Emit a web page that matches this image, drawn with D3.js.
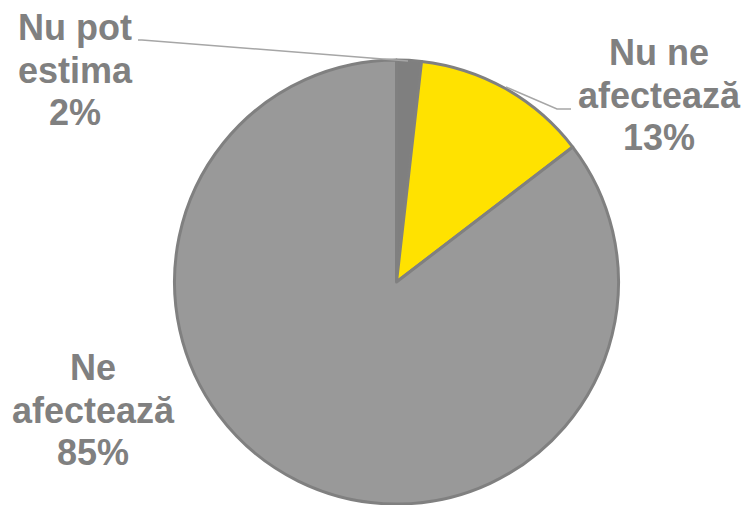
<!DOCTYPE html>
<html><head><meta charset="utf-8">
<script src="https://cdn.jsdelivr.net/npm/d3@7"></script>
<style>html,body{margin:0;padding:0;background:#fff;}svg{display:block;}</style>
</head><body>
<svg id="chart" width="748" height="505"></svg>
<script>
const categories = ["Nu pot estima", "Nu ne afectează", "Ne afectează"];
const values = [1.8, 12.8, 85.4];
const percentLabels = ["2%", "13%", "85%"];
const nameLines = [["Nu pot", "estima"], ["Nu ne", "afectează"], ["Ne", "afectează"]];
const colors = ["#7f7f7f", "#ffe200", "#999999"];

const svg = d3.select("#chart");
const cx = 396.5, cy = 282, r = 222;
const g = svg.append("g").attr("transform", `translate(${cx},${cy})`);

const pie = d3.pie().sort(null).value(d => d)(values);
const arc = d3.arc().innerRadius(0).outerRadius(r);

g.selectAll("path.slice").data(pie).enter().append("path")
  .attr("class", "slice")
  .attr("d", arc)
  .attr("fill", (d, i) => colors[i])
  .attr("stroke", "#808080")
  .attr("stroke-width", 3)
  .attr("stroke-linejoin", "round");

// leader lines
const leaders = [
  [[138, 40], [142, 40], [408, 61]],
  [[506, 87], [557, 109], [571, 109]]
];
const line = d3.line();
svg.selectAll("path.leader").data(leaders).enter().append("path")
  .attr("class", "leader")
  .attr("d", line)
  .attr("fill", "none")
  .attr("stroke", "#a6a6a6")
  .attr("stroke-width", 1.5);

const labelPos = [[75, 40], [659, 65], [93, 380]];
const lh = 42.5;
categories.forEach((c, i) => {
  const lines = nameLines[i].concat([percentLabels[i]]);
  const t = svg.append("text")
    .attr("text-anchor", "middle")
    .attr("font-family", "'Liberation Sans', Arial, sans-serif")
    .attr("font-weight", "bold")
    .attr("font-size", 36)
    .attr("fill", "#808080");
  lines.forEach((s, j) => {
    t.append("tspan").attr("x", labelPos[i][0]).attr("y", labelPos[i][1] + j * lh).text(s);
  });
});
</script>
</body></html>
